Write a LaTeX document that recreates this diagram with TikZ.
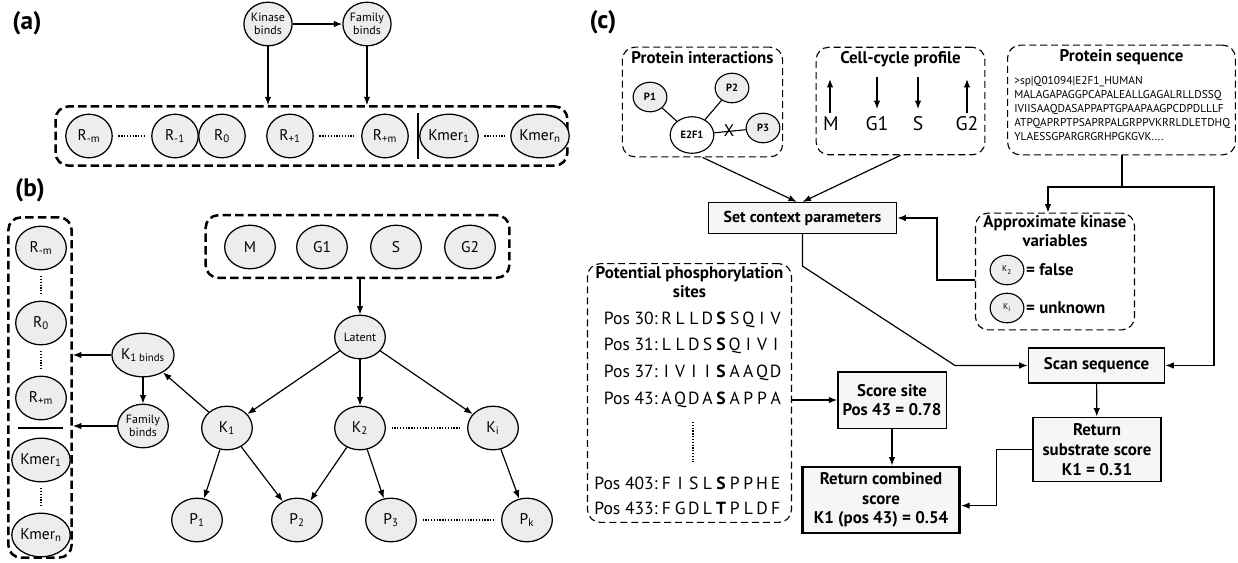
\documentclass[tikz,border=0pt]{standalone}
\usepackage{fontspec}
\setmainfont{PT Sans}
\usepackage{tikz}
\usetikzlibrary{arrows.meta,positioning,shapes.geometric,calc}

\definecolor{nodegray}{RGB}{236,238,237}
\definecolor{boxfill}{RGB}{245,247,247}

%% one residue per fixed slot
\newcommand{\rslot}[1]{\makebox[9.7pt]{#1}}
\def\spreadres#1{\ifx#1\relax\else\rslot{#1}\expandafter\spreadres\fi}
\newcommand{\possite}[3]{\makebox[47pt][r]{Pos #1:}\hspace{1.5pt}\spreadres#2\relax\rslot{\bfseries #3}\spreadres}

\tikzset{
  bnode/.style={ellipse, draw, fill=nodegray, line width=0.9pt, inner sep=0pt,
    minimum width=36pt, minimum height=31pt, font=\fontsize{11}{12}\selectfont},
  lnode/.style={bnode, align=center, font=\fontsize{8.5}{9}\selectfont},
  snode/.style={ellipse, draw, fill=nodegray, line width=0.8pt, inner sep=0pt,
    minimum width=24pt, minimum height=21pt, font=\bfseries\fontsize{7.5}{8}\selectfont},
  grp/.style={draw, line width=1.8pt, dash pattern=on 6pt off 3pt, rounded corners=9pt},
  cgrp/.style={draw, line width=0.8pt, dash pattern=on 5pt off 2.8pt, rounded corners=9pt},
  stepbox/.style={draw, fill=boxfill, line width=0.9pt, align=center, inner sep=2pt,
    font=\bfseries\fontsize{12}{14}\selectfont},
  boxtitle/.style={align=center, inner sep=1pt, font=\bfseries\fontsize{12}{13.5}\selectfont},
  siteline/.style={inner sep=0pt, font=\fontsize{12.5}{13}\selectfont},
  arr/.style={-{Latex[length=6pt,width=4.6pt]}, line width=0.85pt},
  dotrow/.style={line width=1.2pt, dash pattern=on 0.9pt off 1.1pt, shorten <=4pt, shorten >=4pt},
  plabel/.style={font=\bfseries\fontsize{18}{20}\selectfont},
}

\begin{document}
\begin{tikzpicture}[x=0.025cm, y=-0.025cm]
  \useasboundingbox (0,0) rectangle (1238,562);

  %% (a) sequence window
  \node (la) [plabel] at (27,23) {(a)};
  \node (kb) [lnode, minimum width=33pt] at (268,24) {Kinase\\binds};
  \node (fb) [lnode, minimum width=33pt] at (367,24) {Family\\binds};
  \node (agrp) [grp, minimum width=364pt, minimum height=42pt] at (311.5,136) {};

  \node (arm) [bnode, minimum width=33pt] at (89,136) {R\textsubscript{-m}};
  \node (ar1) [bnode, minimum width=33pt] at (175,136) {R\textsubscript{-1}};
  \node (ar0) [bnode, minimum width=33pt] at (222,136) {R\textsubscript{0}};
  \node (arp1) [bnode, minimum width=33pt] at (290,136) {R\textsubscript{+1}};
  \node (arpm) [bnode, minimum width=33pt] at (385,136) {R\textsubscript{+m}};
  \node (akm1) [bnode, minimum width=33pt] at (449,136) {Kmer\textsubscript{1}};
  \node (akmn) [bnode, minimum width=33pt] at (540,136) {Kmer\textsubscript{n}};
  \coordinate (adiv1) at (418,113);
  \coordinate (adiv2) at (418,159);

  \draw[arr] (kb) -- (fb);
  \draw[arr] (kb) -- (kb |- agrp.north);
  \draw[arr] (fb) -- (fb |- agrp.north);
  \draw[dotrow] (arm) -- (ar1);
  \draw[dotrow] (arp1) -- (arpm);
  \draw[dotrow] (akm1) -- (akmn);
  \draw[line width=0.9pt] (adiv1) -- (adiv2);

  %% (b) left column
  \node (lb) [plabel] at (30,190) {(b)};
  \node (bcol) [grp, minimum width=45pt, minimum height=242pt] at (40,387.5) {};
  \node (brm) [bnode] at (41,248) {R\textsubscript{-m}};
  \node (br0) [bnode] at (41,323) {R\textsubscript{0}};
  \node (brpm) [bnode] at (41,398) {R\textsubscript{+m}};
  \node (bkm1) [bnode] at (41,460) {Kmer\textsubscript{1}};
  \node (bkmn) [bnode] at (41,535) {Kmer\textsubscript{n}};
  \coordinate (bdiv1) at (18,428);
  \coordinate (bdiv2) at (63,428);
  \draw[dotrow] (brm) -- (br0);
  \draw[dotrow] (br0) -- (brpm);
  \draw[dotrow] (bkm1) -- (bkmn);
  \draw[line width=0.9pt] (bdiv1) -- (bdiv2);

  %% (b) cell cycle + kinase tree
  \node (bcyc) [grp, minimum width=216pt, minimum height=44.5pt] at (357.5,246.5) {};
  \node (bm) [bnode] at (250,247) {M};
  \node (bg1) [bnode] at (322,247) {G1};
  \node (bs) [bnode] at (396,247) {S};
  \node (bg2) [bnode] at (470,247) {G2};

  \node (lat) [lnode] at (360,337) {Latent};
  \node (k1b) [bnode] at (143,355) {K\textsubscript{1 binds}};
  \node (fam) [lnode] at (143,426) {Family\\binds};
  \node (k1) [bnode] at (227,428) {K\textsubscript{1}};
  \node (k2) [bnode] at (360,428) {K\textsubscript{2}};
  \node (ki) [bnode] at (493,428) {K\textsubscript{i}};
  \node (p1) [bnode] at (197,520) {P\textsubscript{1}};
  \node (p2) [bnode] at (297,520) {P\textsubscript{2}};
  \node (p3) [bnode] at (391,520) {P\textsubscript{3}};
  \node (pk) [bnode] at (527,520) {P\textsubscript{k}};

  \draw[arr] (lat |- bcyc.south) -- (lat);
  \draw[arr] (lat) -- (k1);
  \draw[arr] (lat) -- (k2);
  \draw[arr] (lat) -- (ki);
  \draw[arr] (k1) -- (p1);
  \draw[arr] (k1) -- (p2);
  \draw[arr] (k2) -- (p2);
  \draw[arr] (k2) -- (p3);
  \draw[arr] (ki) -- (pk);
  \draw[arr] (k1) -- (k1b);
  \draw[arr] (k1b) -- (fam);
  \draw[arr] (k1b) -- (k1b -| bcol.east);
  \draw[arr] (fam) -- (fam -| bcol.east);
  \draw[dotrow, yshift=-7pt] (k2) -- (ki);
  \draw[dotrow, yshift=-6pt] (p3) -- (pk);

  %% (c) inputs
  \node (lc) [plabel] at (603,22) {(c)};
  \node (pint) [cgrp, minimum width=114pt, minimum height=78pt] at (702.5,102) {};
  \node (pintt) [boxtitle, below=2pt of pint.north] {Protein interactions};
  \node (pp1) [snode] at (650,97) {P1};
  \node (pp2) [snode] at (732,88) {P2};
  \node (pe2f1) [snode, fill=white, minimum width=31pt, minimum height=26pt] at (692,135) {E2F1};
  \node (pp3) [snode] at (763,128) {P3};
  \draw[line width=0.8pt] (pp1) -- (pe2f1);
  \draw[line width=0.8pt] (pp2) -- (pe2f1);
  \draw[line width=0.8pt] (pe2f1) -- (pp3);
  \node (pcut) [inner sep=0pt, font=\fontsize{12}{12}\selectfont] at (729,131) {X};

  \node (ccp) [cgrp, minimum width=120pt, minimum height=76.5pt] at (900.5,101) {};
  \node (ccpt) [boxtitle, below=2pt of ccp.north] {Cell-cycle profile};
  \node (ccm) [font=\fontsize{14}{14}\selectfont] at (831,124) {M};
  \node (ccg1) [font=\fontsize{14}{14}\selectfont] at (877,124) {G1};
  \node (ccs) [font=\fontsize{14}{14}\selectfont] at (918,124) {S};
  \node (ccg2) [font=\fontsize{14}{14}\selectfont] at (967,124) {G2};
  \coordinate (cmlo) at (830,113);  \coordinate (cmhi) at (830,79);
  \coordinate (cg1hi) at (877,77);  \coordinate (cg1lo) at (877,109);
  \coordinate (cshi) at (918,77);   \coordinate (cslo) at (918,109);
  \coordinate (cg2lo) at (967,113); \coordinate (cg2hi) at (967,79);
  \draw[arr] (cmlo) -- (cmhi);
  \draw[arr] (cg1hi) -- (cg1lo);
  \draw[arr] (cshi) -- (cslo);
  \draw[arr] (cg2lo) -- (cg2hi);

  \node (pseq) [cgrp, minimum width=162pt, minimum height=78pt] at (1121.5,100) {};
  \node (pseqt) [boxtitle, below=2pt of pseq.north] {Protein sequence};
  \node (pseqtxt) [anchor=north west, inner sep=0pt, align=left,
    font=\fontsize{8.1}{9.9}\selectfont] at (1014,76)
    {>sp|Q01094|E2F1\_HUMAN\\
     MALAGAPAGGPCAPALEALLGAGALRLLDSSQ\\
     IVIISAAQDASAPPAPTGPAAPAAGPCDPDLLLF\\
     ATPQAPRPTPSAPRPALGRPPVKRRLDLETDHQ\\
     YLAESSGPARGRGRHPGKGVK....};

  %% (c) steps
  \node (ctx) [stepbox, minimum width=134pt, minimum height=22pt, font=\bfseries\fontsize{11.3}{13}\selectfont] at (802.5,218) {Set context parameters};

  \node (akv) [cgrp, minimum width=113pt, minimum height=83pt] at (1055,271.5) {};
  \node (akvt) [boxtitle, below=1pt of akv.north] {Approximate kinase\\variables};
  \node (ak2) [snode, font=\fontsize{6}{7}\selectfont] at (1007,270) {K\textsubscript{2}};
  \node (akf) [right=1pt of ak2, inner sep=0pt, font=\bfseries\fontsize{12}{13}\selectfont] {= false};
  \node (aki) [snode, font=\fontsize{6}{7}\selectfont] at (1007,308) {K\textsubscript{i}};
  \node (aku) [right=1pt of aki, inner sep=0pt, font=\bfseries\fontsize{12}{13}\selectfont] {= unknown};

  \node (pps) [cgrp, minimum width=145pt, minimum height=184pt] at (689.5,393) {};
  \node (ppst) [boxtitle, below=1pt of pps.north] {Potential phosphorylation\\sites};
  \node (s30) [siteline] at (687,320) {\possite{30}{RLLD}{S}SQIV\relax};
  \node (s31) [siteline] at (687,346) {\possite{31}{LLDS}{S}QIVI\relax};
  \node (s37) [siteline] at (687,373) {\possite{37}{IVII}{S}AAQD\relax};
  \node (s43) [siteline] at (687,400) {\possite{43}{AQDA}{S}APPA\relax};
  \node (s403) [siteline] at (687,483) {\possite{403}{FISL}{S}PPHE\relax};
  \node (s433) [siteline] at (687,508) {\possite{433}{FGDL}{T}PLDF\relax};
  \coordinate (vdot1) at (693,422);
  \coordinate (vdot2) at (693,462);
  \draw[dotrow, shorten <=0pt, shorten >=0pt] (vdot1) -- (vdot2);

  \node (scan) [stepbox, minimum width=97pt, minimum height=25pt] at (1096.5,365.5) {Scan sequence};
  \node (score) [stepbox, minimum width=77pt, minimum height=40pt] at (892,400) {Score site\\Pos 43 = 0.78};
  \node (subst) [stepbox, minimum width=91pt, minimum height=46pt] at (1097,449.5) {Return\\substrate score\\K1 = 0.31};
  \node (comb) [stepbox, line width=2pt, minimum width=112pt, minimum height=47pt] at (881,500) {Return combined\\score\\K1 (pos 43) = 0.54};

  \coordinate (split) at (1122,187);
  \coordinate (rside) at (1214,187);
  \coordinate (bend) at (955,365.5);

  \draw[arr] (pint.south) -- ([xshift=-4pt]ctx.north);
  \draw[arr] (ccp.south) -- (ctx.north);
  \draw[line width=0.85pt] (pseq.south -| split) -- (split);
  \draw[arr] (split) -| ([xshift=-5pt]akv.north);
  \draw[arr] (split) -- (rside) |- (scan.east);
  \draw[arr] ([yshift=-6pt]akv.west) -- ++(-38,0) |- (ctx.east);
  \draw[arr] (ctx.south) -- ++(0,32) -- (bend) -- (scan.west);
  \draw[arr] (scan) -- (subst);
  \draw[arr] (pps.east |- score.west) -- (score.west);
  \draw[arr] (score.south) -- (score.south |- comb.north);
  \draw[arr] (subst.west) -- ++(-36,0) |- ([yshift=-4pt]comb.east);

\end{tikzpicture}
\end{document}
